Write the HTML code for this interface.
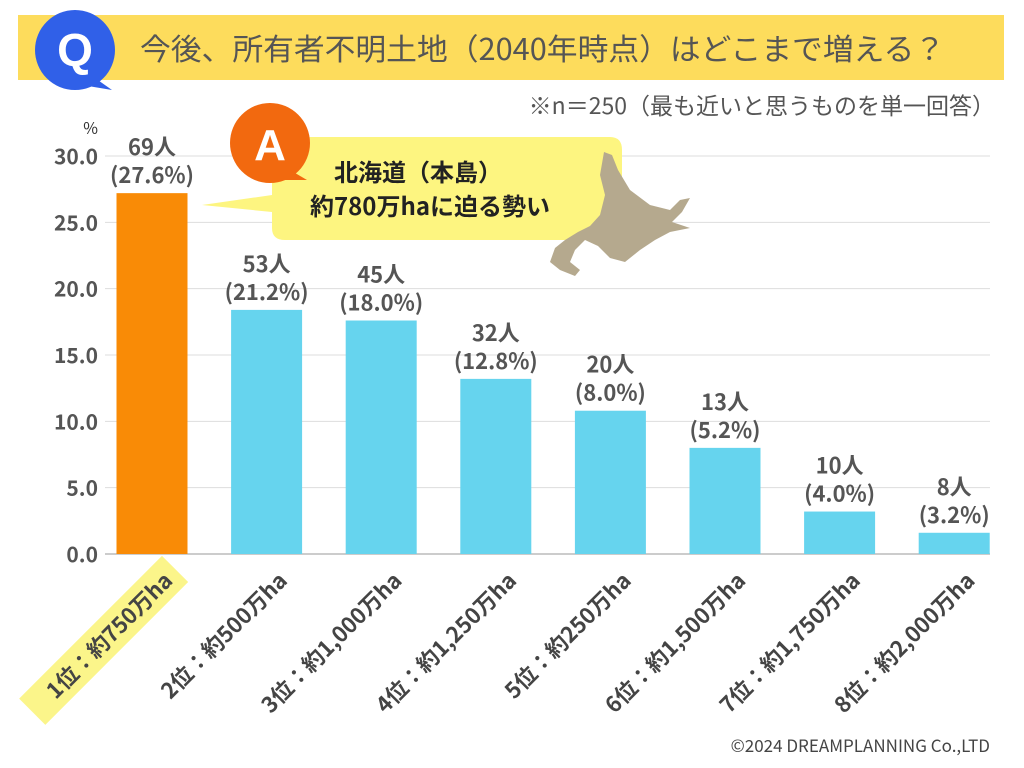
<!DOCTYPE html>
<html><head><meta charset="utf-8"><style>
body{margin:0;background:#fff;}
svg{display:block;font-family:"Noto Sans CJK JP","Liberation Sans",sans-serif;}
</style></head><body>
<svg id="c" width="1024" height="768" viewBox="0 0 1024 768">
<rect x="18" y="15" width="986" height="65" fill="#fddc5c"/>
<g>
<circle cx="75" cy="50" r="40" fill="#3060e8"/><path d="M95 78 L112 90 L88 86Z" fill="#3060e8"/>
<text x="75" y="66" font-size="46" font-weight="bold" fill="#fff" text-anchor="middle" font-family="Liberation Sans">Q</text></g>
<text x="140" y="60" font-size="30" fill="#555" textLength="805" lengthAdjust="spacingAndGlyphs">今後、所有者不明土地（2040年時点）はどこまで増える？</text>
<text x="995" y="114" font-size="23" fill="#555" text-anchor="end">※n＝250（最も近いと思うものを単一回答）</text>
<text x="98" y="134" font-size="16" fill="#333" text-anchor="end">%</text>
<g id="grid"></g><g id="bars"></g>
<g>
<path d="M272 150 Q272 137 285 137 L610 137 Q622 137 622 150 L622 228 Q622 240 610 240 L285 240 Q272 240 272 228 L272 212 L202 205 L272 195Z" fill="#fdf580"/>
<circle cx="270" cy="143" r="40" fill="#f2690f"/><path d="M290 170 L307 180 L282 180Z" fill="#f2690f"/>
<text x="270" y="160" font-size="44" font-weight="bold" fill="#fff" text-anchor="middle" font-family="Liberation Sans">A</text>
<text x="418" y="181" font-size="24" font-weight="bold" fill="#222" text-anchor="middle">北海道（本島）</text>
<text x="430" y="215" font-size="24" font-weight="bold" fill="#222" text-anchor="middle">約780万haに迫る勢い</text>
</g>
<path fill="#b5a98e" d="M604 152 L612 155 L618 170 L630 190 L650 205 L670 210 L680 200 L690 198 L682 212 L672 222 L690 228 L670 232 L655 240 L640 250 L625 262 L610 258 L598 246 L585 240 L575 250 L570 262 L580 270 L575 276 L560 270 L550 262 L555 248 L565 240 L578 232 L590 226 L600 215 L605 195 L600 175Z"/>
<text x="990" y="752" font-size="17" fill="#444" text-anchor="end">©2024 DREAMPLANNING Co.,LTD</text>
</svg>
<script>
const categories=["1位：約750万ha","2位：約500万ha","3位：約1,000万ha","4位：約1,250万ha","5位：約250万ha","6位：約1,500万ha","7位：約1,750万ha","8位：約2,000万ha"];
const values=[27.2,18.4,17.6,13.2,10.8,8.0,3.2,1.6];
const counts=["69人","53人","45人","32人","20人","13人","10人","8人"];
const percents=["(27.6%)","(21.2%)","(18.0%)","(12.8%)","(8.0%)","(5.2%)","(4.0%)","(3.2%)"];
const ticks=[0,5,10,15,20,25,30];
const NS="http://www.w3.org/2000/svg";
const y=v=>554-v*(398/30);
const x=i=>152+i*114.6;
function mk(t,a,p,txt){const e=document.createElementNS(NS,t);for(const k in a)e.setAttribute(k,a[k]);if(txt!==undefined)e.textContent=txt;p.appendChild(e);return e;}
const grid=document.getElementById('grid'),bars=document.getElementById('bars');
ticks.forEach(t=>{
const l=mk('line',{x1:105,x2:990,y1:y(t),y2:y(t),stroke:t==0?'#999':'#ddd','stroke-width':1},grid);


const tx=mk('text',{x:98,y:y(t)+8,'font-size':21,'font-weight':'bold',fill:'#555','text-anchor':'end'},grid,t.toFixed(1));


});
values.forEach((v,i)=>{
const r=mk('rect',{x:x(i)-35.5,y:y(v),width:71,height:554-y(v),fill:i==0?'#f98b06':'#66d4ee'},bars);


const c=mk('text',{x:x(i),y:y(v)-38,'font-size':22,'font-weight':'bold',fill:'#555','text-anchor':'middle'},bars,counts[i]);


const p=mk('text',{x:x(i),y:y(v)-10,'font-size':22,'font-weight':'bold',fill:'#555','text-anchor':'middle'},bars,percents[i]);


const g=mk('g',{transform:`translate(${x(i)+22},582) rotate(-45)`},bars);


if(i==0){const h=mk('rect',{x:-192,y:-27,width:202,height:37,fill:'#fbf58a'},g);

}
const xl=mk('text',{x:0,y:0,'font-size':22,'font-weight':'bold',fill:'#444','text-anchor':'end'},g,categories[i]);


});
</script>
</body></html>
